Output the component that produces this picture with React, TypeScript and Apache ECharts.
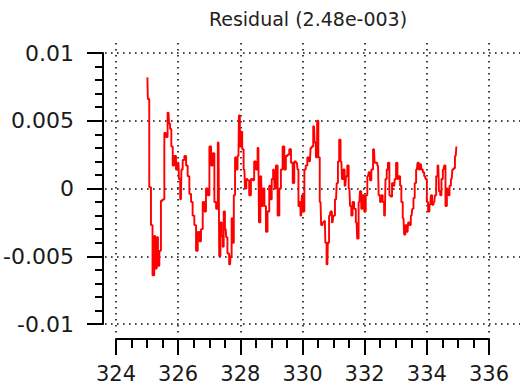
import React, { useEffect, useRef } from "react";
import * as echarts from "echarts";

const titleText = "Residual (2.48e-003)";

const xMin = 324;
const xMax = 336;
const xStep = 2;
const yMin = -0.01;
const yMax = 0.01;
const yStep = 0.005;

const residualX = [
  325.01, 325.04, 325.10, 325.15, 325.20, 325.26, 325.29, 325.33, 325.37, 325.42,
  325.47, 325.53, 325.58, 325.63, 325.69, 325.72, 325.76, 325.80, 325.85, 325.90,
  325.96, 326.01, 326.04, 326.09, 326.12, 326.17, 326.23, 326.28, 326.33, 326.39,
  326.44, 326.49, 326.55, 326.60, 326.66, 326.71, 326.76, 326.82, 326.87, 326.92,
  326.98, 327.03, 327.09, 327.14, 327.19, 327.25, 327.30,
  327.34, 327.38, 327.42, 327.45, 327.48, 327.53, 327.56, 327.61, 327.67, 327.70,
  327.74, 327.77, 327.81, 327.85, 327.88, 327.94, 327.97, 328.00, 328.04, 328.08,
  328.13, 328.17, 328.22, 328.26, 328.31, 328.37, 328.42, 328.47, 328.53, 328.58,
  328.62, 328.67, 328.71, 328.75, 328.80, 328.85, 328.90, 328.96, 328.99, 329.03,
  329.08, 329.12, 329.17, 329.23, 329.28, 329.33, 329.39, 329.44, 329.49, 329.55,
  329.60, 329.66, 329.71, 329.76, 329.82,
  329.86, 329.88, 329.91, 329.96, 330.00, 330.04, 330.08, 330.13, 330.18, 330.24,
  330.28, 330.32, 330.37, 330.41, 330.45, 330.49, 330.53, 330.58, 330.62, 330.67,
  330.72, 330.75, 330.80, 330.83, 330.88, 330.92, 330.97, 331.01, 331.08, 331.12,
  331.16, 331.20, 331.25, 331.29, 331.33, 331.38, 331.42, 331.46, 331.51, 331.55,
  331.59, 331.63, 331.69, 331.74, 331.78, 331.83, 331.87, 331.91, 331.96, 332.01,
  332.06, 332.11, 332.15, 332.19, 332.24, 332.30, 332.34,
  332.38, 332.43, 332.47, 332.52, 332.56, 332.60, 332.65, 332.69, 332.73, 332.77,
  332.82, 332.86, 332.90, 332.95, 332.99, 333.03, 333.08, 333.12, 333.16, 333.20,
  333.25, 333.29, 333.33, 333.38, 333.42, 333.46, 333.51, 333.55, 333.59, 333.63,
  333.68, 333.72, 333.76, 333.81, 333.85, 333.89, 333.94, 333.98, 334.02, 334.06,
  334.11, 334.15, 334.19, 334.24, 334.28, 334.32, 334.37, 334.41, 334.45, 334.49,
  334.54, 334.58, 334.62, 334.67, 334.71, 334.75, 334.80, 334.84, 334.88, 334.93,
  334.97,
];

const residualY = [
  0.0082, 0.0066, 0.0001, -0.0027, -0.0064, -0.0035, -0.0059, -0.0036, -0.0057, -0.0046,
  -0.0009, -0.0008, 0.0041, 0.0038, 0.0056, 0.0048, 0.0044, 0.0031, 0.0017, 0.0024,
  0.0014, 0.0019, 0.0007, -0.0008, 0.0014, 0.0021, 0.0024, 0.0017, 0.0009, -0.0004,
  -0.001, -0.002, -0.0027, -0.0046, -0.0032, -0.0039, -0.003, -0.001, -0.0017, 0,
  -0.0005, 0.0031, 0.0017, 0.0026, -0.001, -0.0015, 0.0034,
  -0.005, -0.0025, -0.0035, -0.0043, -0.0017, -0.003, -0.0036, -0.0048, -0.0056, -0.005,
  -0.0022, -0.004, -0.0005, 0.0023, 0.0014, 0.0024, 0.0054, 0.0031, 0.0042, 0.0029,
  0.0014, 0, 0.0007, 0.0006, -0.0005, 0.0007, 0.0006, 0.002, 0.0014, 0.003,
  -0.0025, 0.0009, -0.0013, 0, -0.0013, -0.0032, -0.0017, 0.0002, -0.0008, 0.0007,
  0.0014, 0, 0.0017, -0.002, 0, 0.0014, 0.0031, 0.0014, 0.0024, 0.0025,
  0.0029, 0.0019, 0.0004, 0.002, 0.0019,
  0.0014, -0.0013, -0.001, -0.002, -0.0005, -0.0017, 0.0014, 0.0017, 0.0023, 0.002,
  0.003, 0.0031, 0.0046, 0.0034, 0.0023, 0.005, 0.0023, -0.001, -0.0027, -0.0025,
  -0.0024, -0.004, -0.0056, -0.004, -0.002, -0.0017, -0.0025, -0.002, -0.0008, 0.0004,
  0.002, 0.0036, 0.002, 0.0007, 0.0014, 0.0002, 0.0009, 0.0017, 0, -0.0013,
  -0.002, -0.001, -0.0015, -0.0025, -0.0037, -0.001, -0.0002, -0.0015, -0.0005, -0.0017,
  -0.0005, 0.0009, 0.0012, 0.0006, 0.0014, 0.0029, 0.0019,
  0.0019, 0.0017, -0.0005, -0.001, -0.0005, -0.001, -0.002, 0.0007, 0.0014, 0.0019,
  -0.0005, -0.0006, 0.0004, 0.0002, 0.0007, 0.0019, 0.0007, 0.0009, 0.0002, -0.001,
  -0.0022, -0.0034, -0.0027, -0.0032, -0.0025, -0.0027, -0.002, -0.0015, -0.0007, 0.0004,
  0.0014, 0.0019, 0.0014, 0.0018, 0.0014, 0.0012, 0.0009, 0.0007, -0.001, -0.0017,
  -0.0012, -0.0005, -0.0012, -0.001, -0.0005, 0.0009, 0.0017, -0.0002, -0.0005, 0.0007,
  0.0014, 0.0017, -0.0013, 0, -0.0005, 0.0002, 0.0007, 0.0014, 0.0015, 0.0024,
  0.0031,
];

const FONT = "DejaVu Sans";

const dotted = {
  show: true,
  lineStyle: { color: "#111", width: 1.6, type: [1.6, 4.4] as number[] },
};

export default function App() {
  const ref = useRef<HTMLDivElement>(null);

  useEffect(() => {
    if (!ref.current) return;
    const chart = echarts.init(ref.current, null, { renderer: "svg" });
    const data = residualX.map((x, i) => [x, residualY[i]]);
    const fmtY = (v: number) => String(+v.toFixed(3));

    chart.setOption({
      animation: false,
      backgroundColor: "#ffffff",
      graphic: [
        {
          type: "text",
          x: 308,
          y: 19,
          style: {
            text: titleText,
            fontFamily: FONT,
            fontSize: 19,
            fill: "#222",
            textAlign: "center",
            textVerticalAlign: "middle",
          },
        },
      ],
      grid: [
        { left: 116, right: 31, top: 53, bottom: 62 },
        { left: 105, right: 0, top: 53, bottom: 62 },
        { left: 116, right: 31, top: 43, bottom: 50 },
      ],
      xAxis: [
        {
          gridIndex: 0,
          type: "value",
          min: xMin,
          max: xMax,
          interval: xStep,
          offset: 15,
          axisLine: { show: true, onZero: false, lineStyle: { color: "#000", width: 2 } },
          axisTick: { show: true, length: 16, lineStyle: { color: "#000", width: 2 } },
          minorTick: { show: true, splitNumber: 4, length: 9, lineStyle: { color: "#000", width: 2 } },
          axisLabel: { margin: 24, fontSize: 21, fontFamily: FONT, color: "#1a1a1a" },
          splitLine: { show: false },
        },
        {
          gridIndex: 1,
          type: "value",
          min: 0,
          max: 1,
          show: false,
        },
        {
          gridIndex: 2,
          type: "value",
          min: xMin,
          max: xMax,
          interval: xStep,
          axisLine: { show: false },
          axisTick: { show: false },
          axisLabel: { show: false },
          splitLine: dotted,
        },
      ],
      yAxis: [
        {
          gridIndex: 0,
          type: "value",
          min: yMin,
          max: yMax,
          interval: yStep,
          offset: 13,
          axisLine: { show: true, onZero: false, lineStyle: { color: "#000", width: 2 } },
          axisTick: { show: true, length: 16, lineStyle: { color: "#000", width: 2 } },
          minorTick: { show: true, splitNumber: 5, length: 8, lineStyle: { color: "#000", width: 2 } },
          axisLabel: { margin: 29, fontSize: 22, fontFamily: FONT, color: "#1a1a1a", formatter: fmtY },
          splitLine: { show: false },
        },
        {
          gridIndex: 1,
          type: "value",
          min: yMin,
          max: yMax,
          interval: yStep,
          axisLine: { show: false },
          axisTick: { show: false },
          axisLabel: { show: false },
          splitLine: dotted,
        },
        {
          gridIndex: 2,
          type: "value",
          min: yMin,
          max: yMax,
          show: false,
        },
      ],
      series: [
        {
          type: "line",
          xAxisIndex: 0,
          yAxisIndex: 0,
          data,
          step: "middle",
          showSymbol: false,
          symbol: "none",
          lineStyle: { color: "#ff0000", width: 1.9 },
          z: 5,
        },
      ],
    });

    return () => chart.dispose();
  }, []);

  return (
    <div
      ref={ref}
      style={{ position: "absolute", left: 0, top: 0, width: 520, height: 386, background: "#fff" }}
    />
  );
}
